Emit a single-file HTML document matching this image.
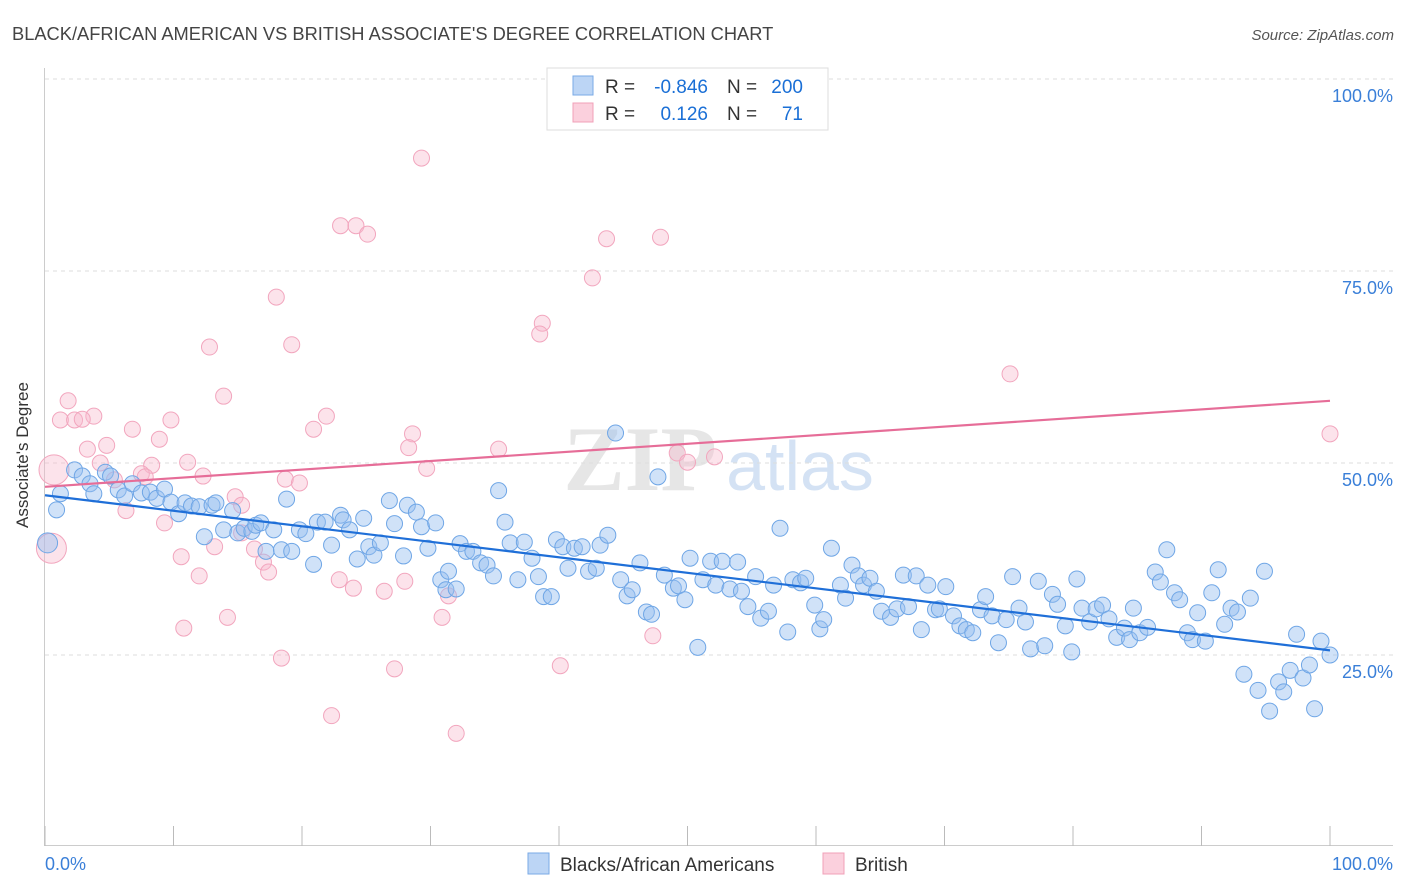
<!DOCTYPE html>
<html><head><meta charset="utf-8">
<style>
body{margin:0;background:#fff;font-family:"Liberation Sans",sans-serif;}
svg{display:block}
</style></head>
<body>
<svg id="chart" width="1406" height="892">
<text x="12" y="40" font-size="18.3" fill="#444">BLACK/AFRICAN AMERICAN VS BRITISH ASSOCIATE'S DEGREE CORRELATION CHART</text>
<text x="1394" y="40" font-size="15" fill="#555" font-style="italic" text-anchor="end">Source: ZipAtlas.com</text>
<text x="640" y="490" font-size="92" fill="#d6d6d6" font-family="Liberation Serif" font-weight="bold" text-anchor="middle" opacity="0.6">ZIP</text>
<text x="800" y="490" font-size="70" fill="#b8d0ee" text-anchor="middle" opacity="0.6">atlas</text>
<g id="grid"></g>
<g id="axes"></g>
<g id="pts"></g>
<g id="lines"></g>
<text x="28" y="455" font-size="17" fill="#333" text-anchor="middle" transform="rotate(-90 28 455)">Associate's Degree</text>
<g>
<rect x="547" y="68" width="281" height="62" fill="#fff" stroke="#ddd"/>
<rect x="573" y="76" width="20" height="19" fill="#bcd5f5" stroke="#7aaae6"/>
<rect x="573" y="103" width="20" height="19" fill="#fbd0dd" stroke="#f0a0b8"/>
<text x="605" y="93" font-size="19" fill="#333">R =</text>
<text x="708" y="93" font-size="19" fill="#1a6fd6" text-anchor="end">-0.846</text>
<text x="727" y="93" font-size="19" fill="#333">N =</text>
<text x="803" y="93" font-size="19" fill="#1a6fd6" text-anchor="end">200</text>
<text x="605" y="120" font-size="19" fill="#333">R =</text>
<text x="708" y="120" font-size="19" fill="#1a6fd6" text-anchor="end">0.126</text>
<text x="727" y="120" font-size="19" fill="#333">N =</text>
<text x="803" y="120" font-size="19" fill="#1a6fd6" text-anchor="end">71</text>
</g>
<g>
<rect x="528" y="853" width="21" height="21" fill="#bcd5f5" stroke="#7aaae6"/>
<text x="560" y="871" font-size="19" fill="#333">Blacks/African Americans</text>
<rect x="823" y="853" width="21" height="21" fill="#fbd0dd" stroke="#f0a0b8"/>
<text x="855" y="871" font-size="19" fill="#333">British</text>
</g>
</svg>
<script>
const yTicks=[25,50,75,100];
const yTickLabels=["25.0%","50.0%","75.0%","100.0%"];
const xTicks=[0,10,20,30,40,50,60,70,80,90,100];
const blueX=[0.2,0.9,1.2,2.3,2.9,3.5,3.8,4.7,5.1,5.7,6.2,6.8,7.5,8.2,8.7,9.3,9.8,10.4,10.9,11.4,12.0,12.4,13.0,13.3,13.9,14.6,15.0,15.5,16.1,16.4,16.8,17.2,17.8,18.4,19.2,18.8,19.8,20.3,20.9,21.2,21.8,22.3,23.0,23.2,23.7,24.3,24.8,25.2,25.6,26.1,26.8,27.2,27.9,28.2,28.9,29.3,29.8,30.4,30.8,31.2,31.4,32.0,32.3,32.8,33.3,33.9,34.4,34.9,35.3,35.8,36.2,36.8,37.3,37.9,38.4,38.8,39.4,39.8,40.3,40.7,41.2,41.8,42.3,42.9,43.2,43.8,44.4,44.8,45.3,45.7,46.3,46.8,47.2,47.7,48.2,48.9,49.3,49.8,50.2,50.8,51.2,51.8,52.2,52.7,53.3,53.9,54.2,54.7,55.3,55.7,56.3,56.7,57.2,57.8,58.2,58.8,59.2,59.9,60.3,60.6,61.2,61.9,62.3,62.8,63.3,63.7,64.2,64.7,65.1,65.8,66.3,66.8,67.2,67.8,68.2,68.7,69.3,69.6,70.1,70.7,71.2,71.7,72.2,72.8,73.2,73.7,74.2,74.8,75.3,75.8,76.3,76.7,77.3,77.8,78.4,78.8,79.4,79.9,80.3,80.7,81.3,81.8,82.3,82.8,83.4,84.0,84.4,84.7,85.2,85.8,86.4,86.8,87.3,87.9,88.3,88.9,89.3,89.7,90.3,90.8,91.3,91.8,92.3,92.8,93.3,93.8,94.4,94.9,95.3,96.0,96.4,96.9,97.4,97.9,98.4,98.8,99.3,100];
const blueY=[39.6,43.9,46.0,49.1,48.3,47.3,46.0,48.8,48.3,46.5,45.7,47.3,46.1,46.2,45.4,46.6,44.9,43.4,44.8,44.4,44.3,40.4,44.5,44.8,41.3,43.8,40.9,41.5,41.1,41.9,42.2,38.5,41.3,38.7,38.5,45.3,41.3,40.8,36.8,42.3,42.3,39.3,43.2,42.6,41.3,37.5,42.8,39.1,38.0,39.6,45.1,42.1,37.9,44.5,43.6,41.7,38.9,42.2,34.8,33.5,35.9,33.6,39.5,38.5,38.5,37.0,36.7,35.3,46.4,42.3,39.6,34.8,39.7,37.6,35.2,32.6,32.6,40.0,39.1,36.3,38.9,39.1,35.9,36.3,39.3,40.6,53.9,34.8,32.7,33.5,37.0,30.6,30.3,48.2,35.4,33.7,34.0,32.2,37.6,26.0,34.8,37.2,34.1,37.2,33.6,37.1,33.3,31.3,35.2,29.8,30.7,34.1,41.5,28.0,34.8,34.4,35.0,31.5,28.4,29.6,38.9,34.1,32.4,36.7,35.3,34.1,35.0,33.3,30.7,29.9,31.0,35.4,31.3,35.3,28.3,34.1,30.9,31.0,33.9,30.1,28.8,28.3,27.9,30.9,32.6,30.1,26.6,29.6,35.2,31.1,29.3,25.8,34.6,26.2,32.9,31.6,28.8,25.4,34.9,31.1,29.3,31.0,31.5,29.7,27.3,28.5,27.0,31.1,27.9,28.6,35.8,34.5,38.7,33.1,32.2,27.9,27.0,30.5,26.8,33.1,36.1,29.0,31.1,30.6,22.5,32.4,20.4,35.9,17.7,21.5,20.2,23.0,27.7,22.0,23.7,18.0,26.8,25.0];
const pinkX=[29.3,23.0,24.2,25.1,43.7,47.9,42.6,18.0,38.7,38.5,12.8,19.2,13.9,75.1,1.8,1.2,2.3,3.8,2.9,6.8,9.8,21.9,20.9,8.9,3.3,4.8,28.6,28.3,35.3,49.2,50.0,52.1,100,8.3,11.1,4.3,7.5,12.3,18.7,19.8,29.7,14.8,15.3,6.3,9.3,15.3,16.3,13.2,10.6,17.0,17.4,12.0,22.9,24.0,26.4,28.0,31.4,14.2,30.9,10.8,47.3,18.4,27.2,40.1,22.3,32.0,5.4,7.8];
const pinkY=[89.7,80.9,80.9,79.8,79.2,79.4,74.1,71.6,68.2,66.8,65.1,65.4,58.7,61.6,58.1,55.6,55.6,56.1,55.7,54.4,55.6,56.1,54.4,53.1,51.8,52.3,53.8,52.0,51.8,51.3,50.1,50.8,53.8,49.7,50.1,50.0,48.6,48.3,47.9,47.4,49.3,45.6,44.5,43.8,42.2,40.9,38.8,39.1,37.8,37.1,35.8,35.3,34.8,33.7,33.3,34.6,32.7,29.9,29.9,28.5,27.5,24.6,23.2,23.6,17.1,14.8,47.8,48.2];
const pinkLargeX=[0.7,0.5];
const pinkLargeY=[49.1,38.9];
const blueTrend=[45.8,25.6];
const pinkTrend=[46.9,58.1];

const NS="http://www.w3.org/2000/svg";
const X=v=>45+v*12.85;
const Y=v=>847-v*7.68;
function mk(tag,attrs,parent){const e=document.createElementNS(NS,tag);for(const k in attrs)e.setAttribute(k,attrs[k]);parent.appendChild(e);return e;}
const grid=document.getElementById('grid'),axes=document.getElementById('axes'),pts=document.getElementById('pts'),lines=document.getElementById('lines');
yTicks.forEach((t,i)=>{
 const l=mk('line',{x1:45,x2:1393,y1:Y(t),y2:Y(t),stroke:'#ddd','stroke-dasharray':'4,4'},grid);
 
 
 const tx=mk('text',{x:1393,y:Y(t)+23,'font-size':18,fill:'#3a7fd8','text-anchor':'end'},axes);
 tx.textContent=yTickLabels[i];
 
 
});
const ya=mk('line',{x1:44.5,x2:44.5,y1:68,y2:846,stroke:'#ccc'},axes);


const xa=mk('line',{x1:44,x2:1393,y1:845.5,y2:845.5,stroke:'#ccc'},axes);


xTicks.forEach(t=>{
 const l=mk('line',{x1:X(t),x2:X(t),y1:826,y2:846,stroke:'#bbb'},axes);
 
 
});
const xl0=mk('text',{x:45,y:870,'font-size':18,fill:'#3a7fd8'},axes);xl0.textContent='0.0%';


const xl1=mk('text',{x:1393,y:870,'font-size':18,fill:'#3a7fd8','text-anchor':'end'},axes);xl1.textContent='100.0%';


pinkX.forEach((v,i)=>{
 const c=mk('circle',{cx:X(v),cy:Y(pinkY[i]),r:8,fill:'rgba(248,185,205,0.4)',stroke:'#f2a6be','stroke-width':1},pts);
 
 
});
pinkLargeX.forEach((v,i)=>{
 const c=mk('circle',{cx:X(v),cy:Y(pinkLargeY[i]),r:15,fill:'rgba(248,185,205,0.4)',stroke:'#f2a6be','stroke-width':1},pts);
 
 
});
blueX.forEach((v,i)=>{
 const c=mk('circle',{cx:X(v),cy:Y(blueY[i]),r:i===0?10:8,fill:'rgba(150,190,240,0.45)',stroke:'#6fa6e6','stroke-width':1},pts);
 
 
});
const bl=mk('line',{x1:X(0),x2:X(100),y1:Y(blueTrend[0]),y2:Y(blueTrend[1]),stroke:'#1f6fd8','stroke-width':2.2},lines);


const pl=mk('line',{x1:X(0),x2:X(100),y1:Y(pinkTrend[0]),y2:Y(pinkTrend[1]),stroke:'#e66d98','stroke-width':2.2},lines);


</script>
</body></html>
